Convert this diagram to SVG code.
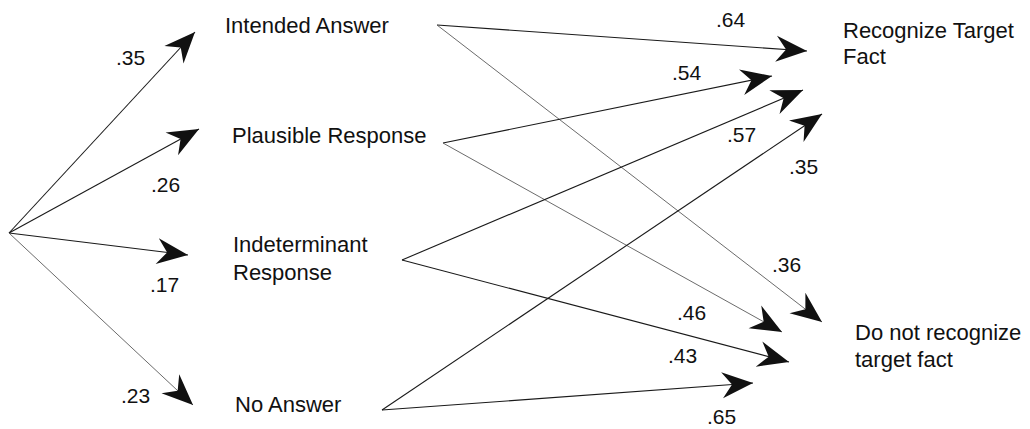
<svg xmlns="http://www.w3.org/2000/svg" width="1030" height="429" viewBox="0 0 1030 429">
<style>
.lbl{font-family:"Liberation Sans",Arial,sans-serif;font-size:22px;fill:#111}
.num{font-family:"Liberation Sans",Arial,sans-serif;font-size:21px;fill:#111}
.c{stroke:#1a1a1a;stroke-width:1.1;fill:none;marker-end:url(#ah)}
.lt{stroke:#5a5a5a;stroke-width:0.9}
</style>
<defs>
<marker id="ah" viewBox="-32 -14 33 28" refX="0" refY="0" markerWidth="33" markerHeight="28" markerUnits="userSpaceOnUse" orient="auto">
<path d="M0,0 L-31,-13 L-21,0 L-31,13 Z" fill="#111"/>
</marker>
</defs>
<rect width="1030" height="429" fill="#fff"/>
<g id="connectors">
<path class="c" d="M9,233 L195,32"/>
<path class="c" d="M9,233 L199,129"/>
<path class="c" d="M9,233 L188,255"/>
<path class="c lt" d="M9,233 L193,405"/>
<path class="c" d="M437,25 L807,51"/>
<path class="c lt" d="M437,25 L822,322"/>
<path class="c" d="M443,143 L772,76"/>
<path class="c lt" d="M443,143 L782,332"/>
<path class="c" d="M402,260 L803,90"/>
<path class="c" d="M402,260 L789,362"/>
<path class="c" d="M382,410 L822,114"/>
<path class="c" d="M382,410 L753,383"/>
</g>
<g id="edge-labels">
<text class="num" x="116" y="65">.35</text>
<text class="num" x="151" y="192">.26</text>
<text class="num" x="150" y="292">.17</text>
<text class="num" x="121" y="403">.23</text>
<text class="num" x="716" y="27">.64</text>
<text class="num" x="672" y="80">.54</text>
<text class="num" x="727" y="142">.57</text>
<text class="num" x="789" y="174">.35</text>
<text class="num" x="772" y="272">.36</text>
<text class="num" x="677" y="320">.46</text>
<text class="num" x="668" y="363">.43</text>
<text class="num" x="707" y="424">.65</text>
</g>
<g id="node-intended"><text class="lbl" x="225" y="33">Intended Answer</text></g>
<g id="node-plausible"><text class="lbl" x="232" y="143">Plausible Response</text></g>
<g id="node-indeterminant"><text class="lbl" x="233" y="252">Indeterminant</text><text class="lbl" x="233" y="280">Response</text></g>
<g id="node-noanswer"><text class="lbl" x="235" y="412">No Answer</text></g>
<g id="node-recognize"><text class="lbl" x="843" y="38">Recognize Target</text><text class="lbl" x="843" y="64">Fact</text></g>
<g id="node-notrecognize"><text class="lbl" x="855" y="340">Do not recognize</text><text class="lbl" x="855" y="367">target fact</text></g>
</svg>
